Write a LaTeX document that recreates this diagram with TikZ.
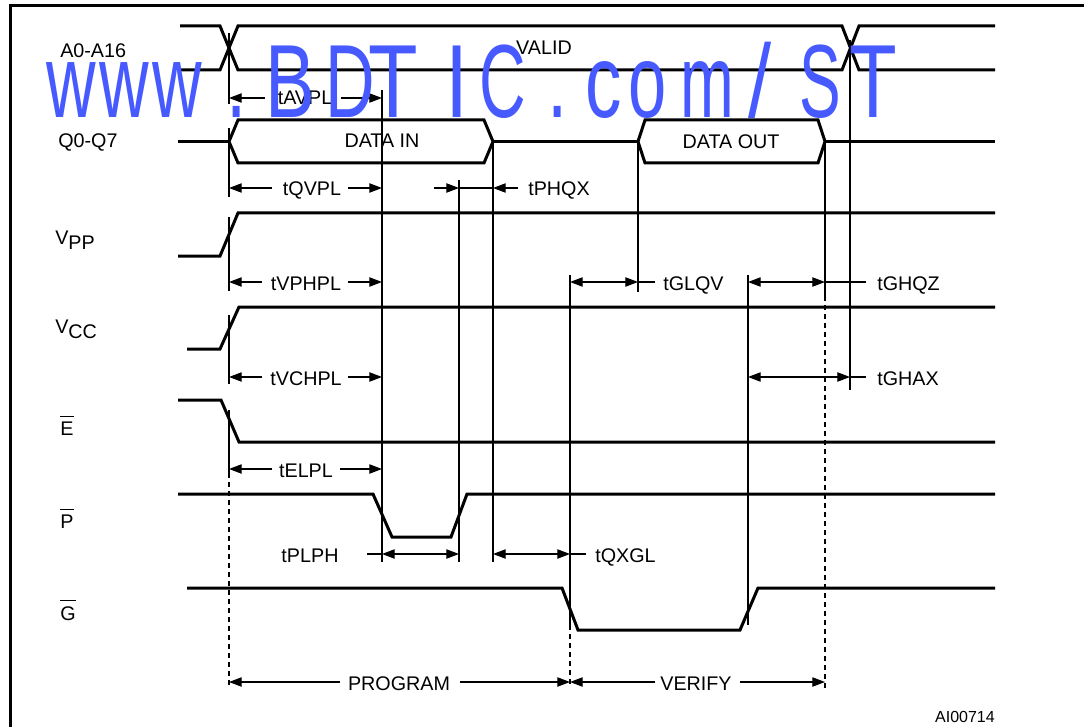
\documentclass[tikz,border=0pt]{standalone}
\usepackage{fontspec}
\setmainfont{Liberation Sans}
\usetikzlibrary{arrows.meta}
\definecolor{wmblue}{RGB}{70,90,255}
\begin{document}
\begin{tikzpicture}[x=0.75pt,y=-0.75pt,
  sig/.style={line width=2.25pt, line join=miter},
  refl/.style={line width=0.8pt},
  refdash/.style={line width=0.8pt, dash pattern=on 3.75pt off 3pt},
  dimarr/.style={line width=0.8pt, -{Triangle[length=9.5pt,width=7pt]}},
  dimboth/.style={line width=0.8pt, {Triangle[length=9.5pt,width=7pt]}-{Triangle[length=9.5pt,width=7pt]}},
  lbl/.style={font=\fontsize{14.8pt}{17pt}\selectfont, inner sep=0pt, anchor=base},
  lblw/.style={lbl, anchor=base west},
  wmchar/.style={font=\fontsize{78pt}{80pt}\selectfont, text=wmblue, inner sep=0pt, anchor=base west}
]
\useasboundingbox (0,0) rectangle (1084,727);
% frame
\draw[line width=2.25pt] (10,760) -- (10,6) -- (1100,6);

% ---------- signals ----------
% A0-A16
\draw[sig] (180,26) -- (220,26) -- (238,70) -- (842,70) -- (859,26) -- (995,26);
\draw[sig] (180,70) -- (220,70) -- (238,26) -- (842,26) -- (859,70) -- (995,70);
% Q0-Q7
\draw[sig] (178,141.5) -- (229,141.5);
\draw[sig] (229,141.5) -- (238,120) -- (484,120) -- (493,141.5) -- (484,163) -- (238,163) -- cycle;
\draw[sig] (493,141.5) -- (638,141.5);
\draw[sig] (638,141.5) -- (645,120) -- (818,120) -- (825,141.5) -- (818,163) -- (645,163) -- cycle;
\draw[sig] (825,141.5) -- (995,141.5);
% VPP
\draw[sig] (178,256) -- (220,256) -- (238,213) -- (995,213);
% VCC
\draw[sig] (187,349) -- (220,349) -- (239,307) -- (995,307);
% E
\draw[sig] (178,400) -- (221,400) -- (239,442) -- (995,442);
% P
\draw[sig] (178,494) -- (373,494) -- (392,537) -- (451,537) -- (467,494) -- (995,494);
% G
\draw[sig] (187,588) -- (562,588) -- (578,630) -- (740,630) -- (758,588) -- (995,588);

% ---------- reference lines ----------
\draw[refl] (229,33) -- (229,104);
\draw[refl] (229,128) -- (229,197);
\draw[refl] (229,217) -- (229,291);
\draw[refl] (229,315) -- (229,384);
\draw[refl] (229,410) -- (229,473);
\draw[refdash] (229,473) -- (229,688);
\draw[refl] (382,90) -- (382,562);
\draw[refl] (459,180) -- (459,562);
\draw[refl] (493,142) -- (493,562);
\draw[refl] (570,275) -- (570,625);
\draw[refdash] (570,625) -- (570,688);
\draw[refl] (638,142) -- (638,292);
\draw[refl] (748,275) -- (748,625);
\draw[refl] (825,142) -- (825,296);
\draw[refdash] (825,296) -- (825,688);
\draw[refl] (850,40) -- (850,390);

% ---------- signal labels ----------
\node[lblw] (la) at (60,58) {A0-A16};
\node[lblw] (lq) at (58,148) {Q0-Q7};
\node[lblw] (lvpp) at (55,244) {V\raisebox{-4pt}{PP}};
\node[lblw] (lvcc) at (55,333) {V\raisebox{-4pt}{CC}};
\node[lblw] (le) at (60,435) {E};
\node[lblw] (lp) at (60,528) {P};
\node[lblw] (lg) at (60,620) {G};
\draw[refl] ([yshift=3.75pt]le.north west) -- ([yshift=3.75pt]le.north east);
\draw[refl] ([yshift=3.75pt]lp.north west) -- ([yshift=3.75pt]lp.north east);
\draw[refl] ([yshift=3.75pt]lg.north west) -- ([yshift=3.75pt]lg.north east);

\node[lbl] (valid) at (544,55) {VALID};
\node[lbl] (din) at (382,148) {DATA IN};
\node[lbl] (dout) at (731,148.5) {DATA OUT};

% ---------- timing ----------
% tAVPL
\node[lbl] (tavpl) at (305,105) {tAVPL};
\draw[dimarr] (265,98) -- (229,98);
\draw[dimarr] (341,98) -- (382,98);
% tQVPL
\node[lbl] (tqvpl) at (312,196) {tQVPL};
\draw[dimarr] (272,188) -- (229,188);
\draw[dimarr] (348,188) -- (382,188);
% tPHQX
\draw[dimarr] (434,188) -- (459,188);
\draw[refl] (459,188) -- (493,188);
\draw[dimarr] (518,188) -- (493,188);
\node[lblw] (tphqx) at (528,196) {tPHQX};
% tVPHPL
\node[lbl] (tvphpl) at (306,290) {tVPHPL};
\draw[dimarr] (262,282) -- (229,282);
\draw[dimarr] (348,282) -- (382,282);
% tGLQV
\draw[dimboth] (570,282) -- (638,282);
\draw[refl] (638,282) -- (655,282);
\node[lblw] (tglqv) at (663,290) {tGLQV};
% tGHQZ
\draw[dimboth] (748,282) -- (825,282);
\draw[refl] (825,282) -- (866,282);
\node[lblw] (tghqz) at (877,290) {tGHQZ};
% tVCHPL
\node[lbl] (tvchpl) at (306,385) {tVCHPL};
\draw[dimarr] (262,377) -- (229,377);
\draw[dimarr] (348,377) -- (382,377);
% tGHAX
\draw[dimboth] (748,377) -- (850,377);
\draw[refl] (850,377) -- (866,377);
\node[lblw] (tghax) at (877,385) {tGHAX};
% tELPL
\node[lbl] (telpl) at (306,477) {tELPL};
\draw[dimarr] (272,469) -- (229,469);
\draw[dimarr] (340,469) -- (382,469);
% tPLPH
\node[lbl] (tplph) at (310,562) {tPLPH};
\draw[refl] (367,554) -- (382,554);
\draw[dimboth] (382,554) -- (459,554);
% tQXGL
\draw[dimboth] (493,554) -- (570,554);
\draw[refl] (570,554) -- (586,554);
\node[lblw] (tqxgl) at (595,562) {tQXGL};
% PROGRAM / VERIFY
\node[lbl] (prog) at (399,690) {PROGRAM};
\draw[dimarr] (340,682) -- (229,682);
\draw[dimarr] (460,682) -- (570,682);
\node[lbl] (verify) at (696,690) {VERIFY};
\draw[dimarr] (655,682) -- (570,682);
\draw[dimarr] (740,682) -- (825,682);

\node[font=\fontsize{12pt}{14pt}\selectfont, inner sep=0pt, anchor=base east] (ai) at (995,722) {AI00714};

% ---------- watermark ----------
\foreach \ch/\xx/\sc [count=\i] in {w/46/0.66, w/99/0.66, w/152/0.66, ./226/0.7, B/265/0.72, D/325/0.66, T/368/0.78, I/445/0.8, C/479/0.62, ./547/0.7, c/585/0.7, o/628/0.66, m/680/0.62, {/}/748/0.8, S/799/0.6, T/849/0.75}{
  \node[wmchar] (wm\i) at (\xx,118) {\scalebox{\sc}[1]{\ch}};
}
\end{tikzpicture}
\end{document}
